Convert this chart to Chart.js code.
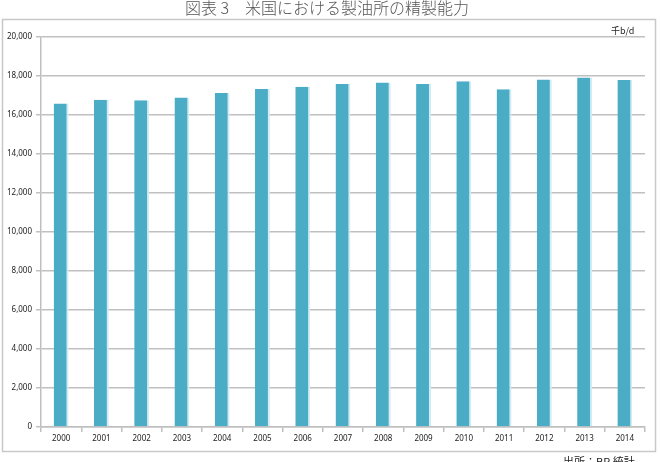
<!DOCTYPE html>
<html><head><meta charset="utf-8">
<script src="https://cdn.jsdelivr.net/npm/chart.js@4"></script>
<style>html,body{margin:0;padding:0;background:#fff}#wrap{width:660px;height:462px}</style>
</head><body><div id="wrap"><canvas id="c" width="660" height="462"></canvas></div>
<script>
const titleText = "図表 3　米国における製油所の精製能力";
const unitText = "千b/d";
const sourceText = "出所：BP 統計";
const years = ["2000","2001","2002","2003","2004","2005","2006","2007","2008","2009","2010","2011","2012","2013","2014"];
const capacity = [16595,16785,16757,16894,17125,17339,17443,17594,17672,17584,17736,17322,17824,17925,17793];
const yTicks = [0,2000,4000,6000,8000,10000,12000,14000,16000,18000,20000];

const deco = {
  id:'deco',
  beforeDraw(chart){
    const ctx = chart.ctx;
    ctx.save();
    ctx.fillStyle='#fff'; ctx.fillRect(0,0,660,462);
    ctx.strokeStyle='#c8c8c8'; ctx.lineWidth=1.5;
    ctx.strokeRect(2.5,19.5,653,432);
    ctx.fillStyle='#555';
    ctx.font='300 16px "Noto Sans CJK JP"';
    ctx.textAlign='center'; ctx.textBaseline='middle';
    ctx.fillText(titleText,327,8);
    ctx.font='9px "Noto Sans CJK JP"';
    ctx.textAlign='left';
    ctx.fillStyle='#222';
    ctx.fillText(unitText,611,31);
    ctx.font='11px "Noto Sans CJK JP"';
    ctx.textBaseline='top';
    ctx.fillText(sourceText,563,456);
    ctx.restore();
  }
};

new Chart(document.getElementById('c'),{
  type:'bar',
  data:{labels:years,datasets:[{data:capacity,backgroundColor:'#4bacc6',borderColor:'#d3ecf3',borderWidth:{right:2,left:0,top:0,bottom:0},barPercentage:0.74,categoryPercentage:0.5}]},
  options:{
    responsive:false,animation:false,devicePixelRatio:1,
    layout:{padding:{left:0,right:15,top:37,bottom:0}},
    plugins:{legend:{display:false},tooltip:{enabled:false}},
    scales:{
      x:{
        grid:{offset:true,drawOnChartArea:false,drawTicks:true,tickLength:5,color:'#bfbfbf',lineWidth:1.5},
        border:{color:'#bfbfbf',width:1.5},
        ticks:{color:'#222',font:{family:'"Noto Sans"',size:8},padding:2,maxRotation:0},
        afterFit(s){s.height=35;}
      },
      y:{
        min:0,max:20000,
        afterBuildTicks(s){s.ticks=yTicks.map(v=>({value:v}));},
        grid:{color:'#c0c0c0',lineWidth:1.5,tickLength:5,drawTicks:true},
        border:{color:'#bfbfbf',width:1.5},
        ticks:{color:'#222',font:{family:'"Noto Sans"',size:8},padding:4,callback:v=>v.toLocaleString('en-US')},
        afterFit(s){s.width=41;}
      }
    }
  },
  plugins:[deco]
});
</script></body></html>
